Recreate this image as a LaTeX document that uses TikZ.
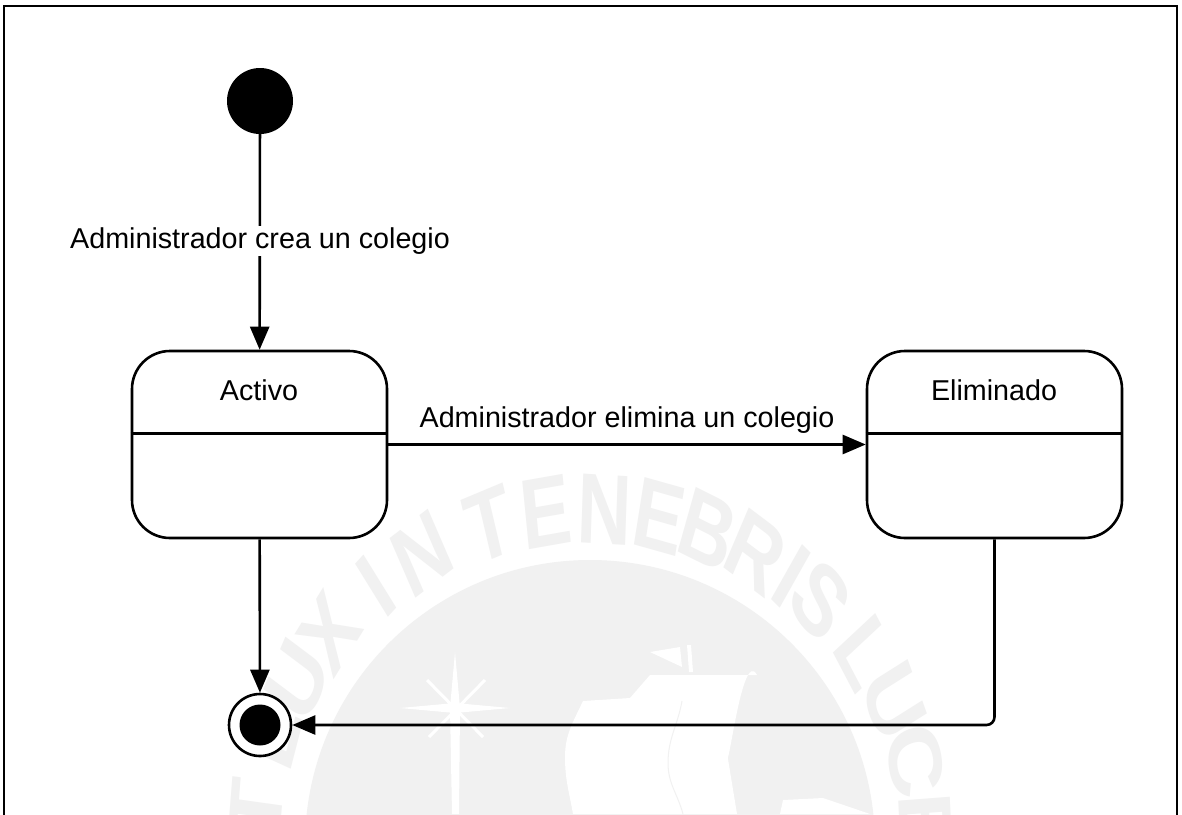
\documentclass[tikz,border=0pt]{standalone}
\usepackage{fontspec}
\setmainfont{Liberation Sans}
\usetikzlibrary{arrows.meta}
\definecolor{marca}{gray}{0.945}
\tikzset{
  linea/.style={line width=2.6pt},
  flecha/.style={linea,-{Triangle[length=23pt,width=19pt]}},
  estado/.style={draw,linea,rounded corners=38pt,minimum width=255pt,minimum height=187pt},
  texto/.style={font=\fontsize{28.7}{34}\selectfont,inner sep=1pt},
  letra/.style={text=marca,font=\fontsize{100}{100}\selectfont\bfseries,xscale=0.75,transform shape,inner sep=0pt}
}
\begin{document}
\begin{tikzpicture}[x=1pt,y=-1pt]
\path[use as bounding box,clip] (0,0) rectangle (1182,814);
\fill[white] (0,0) rectangle (1182,814);
% marca de agua
\fill[marca] (590,845) circle (285);
\fill[white] (583,701)--(630,698)--(650,675)--(757,675) to[out=118,in=-90] (727,753)--(737,814)--(573,814) to[out=100,in=-90] (565,757) to[out=90,in=-115] cycle;
\draw[marca,line width=1pt] (682,701) to[out=-100,in=90] (668,763) to[out=-90,in=105] (683,814);
\fill[white] (650,652)--(680,647)--(682,667)--cycle;
\fill[white] (687,645)--(691,645)--(693,672)--(689,672)--cycle;
\fill[white] (783,800)--(823,798)--(870,814)--(780,814)--cycle;
\fill[white] (400,708)--(455,703)--(510,708)--(455,713)--cycle;
\fill[white] (455,652)--(460,708)--(459,814)--(452,814)--(450,708)--cycle;
\draw[white,line width=3pt] (427,680)--(483,737) (485,680)--(429,737);
\foreach \a/\l in {-84/T,-71/L,-60.6/U,-50.8/X,-39.5/I,-30/N,-17.4/T,-7.5/E,2.5/N,11.9/E,20.5/B,29.5/R,36.9/I,43.2/S,55/L,64.7/U,75.4/C,86.7/E}
  \node[letra,rotate=-\a] at ({590+336*sin(\a)},{845-336*cos(\a)}) {\l};
% marco
\draw[linea] (4,830)--(4,6)--(1177,6)--(1177,830);
% estados
\node[circle,fill=black,minimum size=66pt,inner sep=0pt] (inicio) at (260,101) {};
\node[estado] (activo) at (259.5,444.5) {};
\node[estado] (eliminado) at (994.5,444.5) {};
\node[circle,fill=white,draw,linea,minimum size=62pt,inner sep=0pt] (fin) at (260,725) {};
\node[circle,fill=black,minimum size=41pt,inner sep=0pt] (finc) at (260,725) {};
\draw[linea] (activo.west)++(0,-11)--++(257,0);
\draw[linea] (eliminado.west)++(0,-11)--++(257,0);
\node[texto] (tactivo) at (259,390) {Activo};
\node[texto] (teliminado) at (994,390) {Eliminado};
% transiciones
\draw[flecha] (inicio)--(activo);
\draw[flecha] (activo)--(eliminado);
\draw[flecha] (activo)--(fin);
\draw[flecha,rounded corners=8pt] (eliminado.south)|-(fin);
\node[texto,fill=white,inner sep=2pt] (crea) at (260,241) {Administrador crea un colegio};
\node[texto] (elimina) at (627,420) {Administrador elimina un colegio};
\end{tikzpicture}
\end{document}
